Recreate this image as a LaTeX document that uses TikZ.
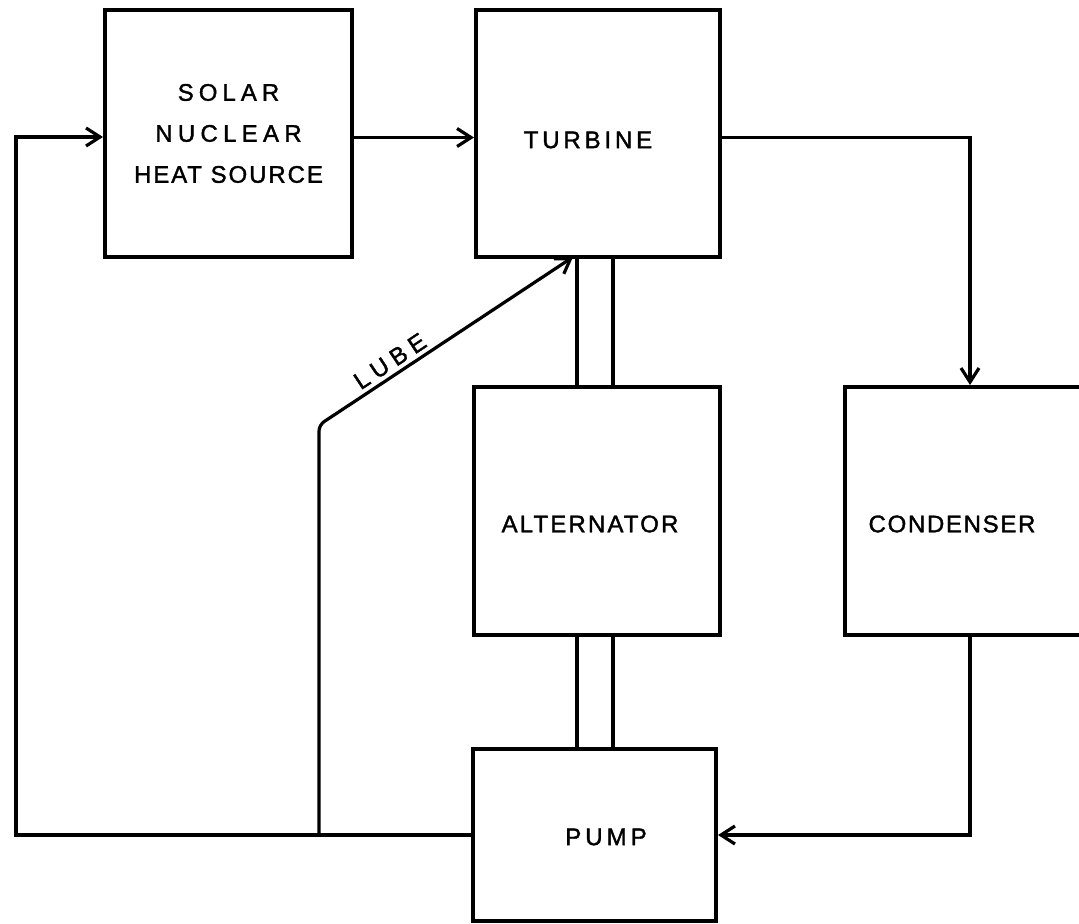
\documentclass[tikz,border=0pt]{standalone}
\usepackage{fontspec}
\setmainfont{Liberation Sans}[FakeBold=1.5]
\usetikzlibrary{arrows.meta,calc}
\newcommand{\lsp}[2]{{\addfontfeature{LetterSpace=#1}#2}}
\tikzset{
  box/.style={draw, line width=2pt, inner sep=0pt, font=\fontsize{12}{20.5}\selectfont, align=center},
  conn/.style={line width=1.6pt},
  arr/.style={line width=1.6pt, -{Straight Barb[length=7pt,width=9pt]}},
  shaft/.style={line width=2pt},
  lbl/.style={font=\fontsize{12}{14}\selectfont, inner sep=0pt}
}
\begin{document}
\begin{tikzpicture}[x=0.5pt,y=-0.5pt]
\useasboundingbox (0,0) rectangle (1079,924);
\clip (0,0) rectangle (1079,924);
% boxes
\node[box, minimum width=123.5pt, minimum height=123.5pt] (heat) at (228.5,133.5)
  {\lsp{21}{SOLAR}\\ \lsp{22}{NUCLEAR}\\ \lsp{8}{HEAT SOURCE}};
\node[box, minimum width=122pt, minimum height=123.5pt] (turb) at (598,133.5) {};
\node[lbl] (turbtxt) at (588,140) {\lsp{16}{TURBINE}};
\node[box, minimum width=123pt, minimum height=124pt] (alt) at (597,511) {};
\node[lbl] (alttxt) at (590,524) {\lsp{9}{ALTERNATOR}};
\node[box, minimum width=125pt, minimum height=124pt] (cond) at (970,511) {};
\node[lbl] (condtxt) at (952,524) {\lsp{7}{CONDENSER}};
\node[box, minimum width=121.5pt, minimum height=86pt] (pump) at (594.5,835) {};
\node[lbl] (pumptxt) at (606,837) {\lsp{17}{PUMP}};
% coordinates
\coordinate (sl) at (577,0);
\coordinate (sr) at (613,0);
\coordinate (lb) at (16,835);
\coordinate (j) at (319,835);
\coordinate (lc) at (319,425);
\coordinate (lt) at (573,257);
% shafts
\draw[shaft] (turb.south -| sl) -- (alt.north -| sl);
\draw[shaft] (turb.south -| sr) -- (alt.north -| sr);
\draw[shaft] (alt.south -| sl) -- (pump.north -| sl);
\draw[shaft] (alt.south -| sr) -- (pump.north -| sr);
% flow
\draw[arr] ([yshift=-2pt]heat.east) -- ([yshift=-2pt]turb.west);
\draw[arr] ([yshift=-2pt]turb.east) -| (cond.north);
\draw[arr] (cond.south) |- (pump.east);
\draw[arr] (pump.west) -- (lb) |- ([yshift=-1.75pt]heat.west);
\draw[arr, rounded corners=3pt] (j) -- (lc) -- node[pos=0.31, sloped, above=2pt, lbl] (lube) {\lsp{25}{LUBE}} (lt);
\end{tikzpicture}
\end{document}
